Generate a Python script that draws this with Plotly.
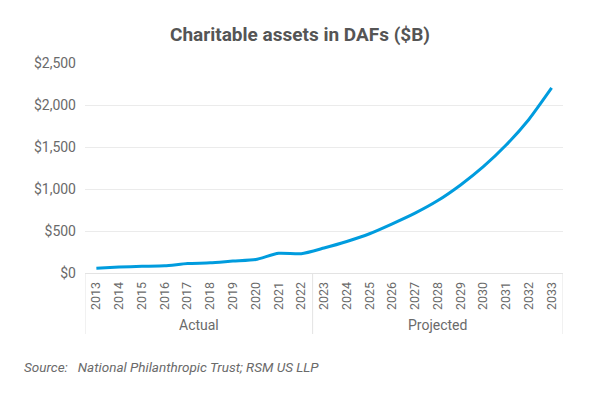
import plotly.graph_objects as go

years = [str(y) for y in range(2013, 2034)]
groups = ["Actual"] * 10 + ["Projected"] * 11
assets = [57, 71, 79, 85, 112, 121, 142, 160, 235, 229,
          297, 375, 467, 585, 712, 862, 1048, 1265, 1523, 1828, 2203]
y_ticks = [0, 500, 1000, 1500, 2000, 2500]
y_tick_text = ["$" + format(v, ",") for v in y_ticks]

FONT = "Roboto"
GRAY = "#6a6a6a"
DIV = "#e3e3e3"

# the page places the figure 8px in from the top-left corner
OFF = 8
W, H = 600 - OFF, 400 - OFF
PL, PR, PT, PB = 85 - OFF, 563 - OFF, 63 - OFF, 273 - OFF  # plot box in figure px
PH = PB - PT
PW = PR - PL


def py(yy):
    """reference page y pixel -> paper y"""
    return (PB - (yy - OFF)) / PH


def px(xx):
    return ((xx - OFF) - PL) / PW


group_names = []
for g in groups:
    if g not in group_names:
        group_names.append(g)
spans = []
for g in group_names:
    idx = [i for i, v in enumerate(groups) if v == g]
    spans.append((g, idx[0] - 0.5, idx[-1] + 0.5))

fig = go.Figure()
fig.add_trace(go.Scatter(
    x=years, y=assets, mode="lines",
    line=dict(color="#009CDE", width=3, shape="spline", smoothing=0.6),
    hoverinfo="skip", showlegend=False,
))

shapes = []
edges = sorted(set([s[1] for s in spans] + [s[2] for s in spans]))
for e in edges:
    shapes.append(dict(type="line", xref="x", yref="paper", x0=e, x1=e,
                       y0=0, y1=py(334), line=dict(color=DIV, width=1)))

annotations = []
for g, a, b in spans:
    annotations.append(dict(text=g, xref="x", yref="paper", x=(a + b) / 2,
                            y=py(325), xanchor="center", yanchor="middle",
                            showarrow=False, font=dict(family=FONT, size=14, color=GRAY)))
annotations.append(dict(
    text="<i>Source:   National Philanthropic Trust; RSM US LLP</i>",
    xref="paper", yref="paper", x=px(22), y=py(367),
    xanchor="left", yanchor="middle", showarrow=False,
    font=dict(family=FONT, size=13.5, color=GRAY),
))

fig.update_layout(
    width=W, height=H,
    margin=dict(l=PL, r=W - PR, t=PT, b=H - PB),
    paper_bgcolor="white", plot_bgcolor="white",
    font=dict(family=FONT, color=GRAY, size=13),
    title=dict(text="<b>Charitable assets in DAFs ($B)</b>", x=(300 - OFF) / W,
               xanchor="center", y=1 - (34 - OFF) / H, yanchor="middle",
               font=dict(family=FONT, size=19, color="#555555")),
    xaxis=dict(type="category", range=[-0.5, len(years) - 0.5], tickangle=-90,
               showline=True, linecolor=DIV, linewidth=1, showgrid=False,
               ticks="", automargin=False, ticklabelstandoff=3,
               tickfont=dict(size=12.5, color=GRAY)),
    yaxis=dict(range=[0, 2500], tickmode="array", tickvals=y_ticks, ticktext=y_tick_text,
               showgrid=True, gridcolor="#ebebeb", gridwidth=1, zeroline=False,
               showline=False, ticks="", automargin=False, ticklabelstandoff=8,
               tickfont=dict(size=14, color=GRAY)),
    shapes=shapes,
    annotations=annotations,
)

fig.write_html("out.html")
